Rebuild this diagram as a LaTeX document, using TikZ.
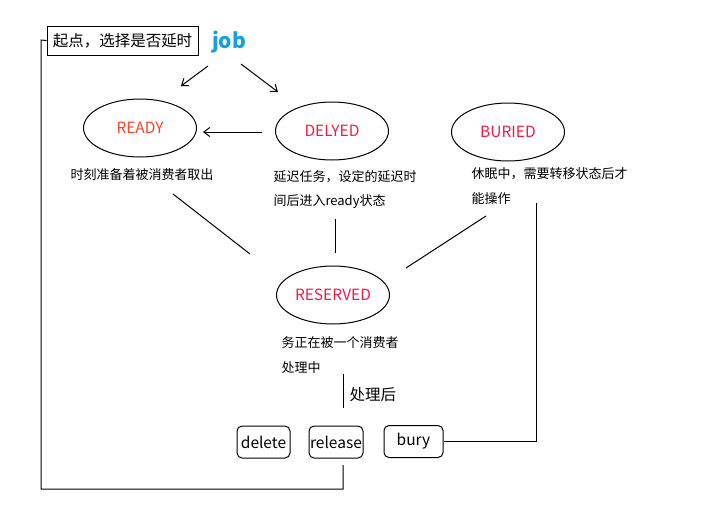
\documentclass[tikz,border=0pt]{standalone}
\usepackage{fontspec}
\setmainfont{Noto Sans CJK SC}
\usetikzlibrary{shapes.geometric,arrows.meta}
\definecolor{jobblue}{RGB}{20,160,225}
\definecolor{readyred}{RGB}{245,70,40}
\definecolor{statered}{RGB}{240,30,70}
\begin{document}
\begin{tikzpicture}[x=1pt,y=-1pt,line width=1pt,font=\fontsize{13}{15}\selectfont,
    state/.style={draw,ellipse,minimum width=113,minimum height=58,inner sep=0pt,font=\fontsize{15.5}{17}\selectfont},
    note/.style={anchor=west,inner sep=0pt},
    cmd/.style={draw,rounded corners=5pt,minimum height=32,inner sep=1pt,font=\fontsize{15.5}{17}\selectfont},
    >={Straight Barb[length=6pt,width=9pt]}]
    \useasboundingbox (0,0) rectangle (716,515);
    % start and job
    \node[draw,minimum width=151,minimum height=29,inner sep=0pt,font=\fontsize{15.5}{17}\selectfont] (start) at (122.5,40.5) {起点，选择是否延时};
    \node[text=jobblue,font=\fontsize{21}{23}\selectfont\bfseries] (job) at (229,42) {job};
    % states
    \node[state,text=readyred] (ready) at (140,128) {READY};
    \foreach \name/\label/\x/\y in {delyed/DELYED/332/131, buried/BURIED/508/132, reserved/RESERVED/333/295} {
        \node[state,text=statered] (\name) at (\x,\y) {\label};
    }
    % notes
    \node[note] (nready) at (70,175) {时刻准备着被消费者取出};
    \node[note] (ndelyed) at (273,177) {延迟任务，设定的延迟时};
    \node[note] (ndelyed2) at (273,202) {间后进入ready状态};
    \node[note] (nburied) at (471,174) {休眠中，需要转移状态后才};
    \node[note] (nburied2) at (471,199) {能操作};
    \node[note] (nres) at (281,343) {务正在被一个消费者};
    \node[note] (nres2) at (281,368) {处理中};
    \node[note,font=\fontsize{15.5}{17}\selectfont] (after) at (349,395) {处理后};
    % commands
    \node[cmd,minimum width=53] (delete) at (263.5,442) {delete};
    \node[cmd,minimum width=54] (release) at (336,442) {release};
    \node[cmd,minimum width=59] (bury) at (413.5,441.5) {bury};
    % connectors
    \coordinate (j1) at (208,66);
    \coordinate (j2) at (181,86);
    \coordinate (j3) at (241,64);
    \coordinate (j4) at (278,92);
    \draw[->] (j1) -- (j2);
    \draw[->] (j3) -- (j4);
    \coordinate (d1) at (262,132);
    \coordinate (d2) at (203,132);
    \draw[->] (d1) -- (d2);
    \coordinate (r1) at (173,194);
    \coordinate (r2) at (250,254);
    \draw (r1) -- (r2);
    \coordinate (e1) at (335,219);
    \coordinate (e2) at (335,253);
    \draw (e1) -- (e2);
    \coordinate (b1) at (486,216);
    \coordinate (b2) at (406,268);
    \draw (b1) -- (b2);
    \coordinate (p1) at (343,374);
    \coordinate (p2) at (343,408);
    \draw (p1) -- (p2);
    \coordinate (up) at (536,203);
    \draw (bury.east) -- (up |- bury.east) -- (up);
    \coordinate (rel) at (343,465);
    \coordinate (low) at (343,489);
    \coordinate (left) at (41,489);
    \coordinate (top) at (41,40);
    \draw (rel) -- (low) -- (left) -- (top) -- (start.west);
\end{tikzpicture}
\end{document}
